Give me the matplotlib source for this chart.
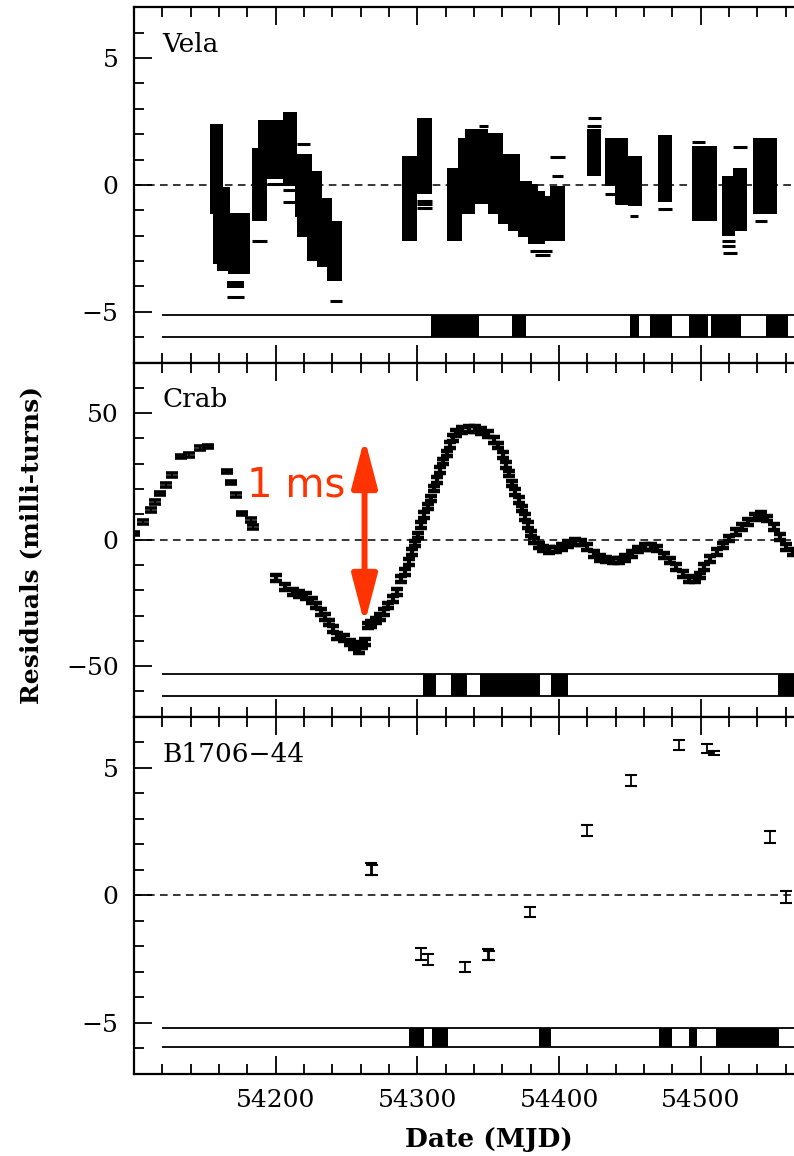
import matplotlib
matplotlib.use("Agg")
import matplotlib.pyplot as plt
from matplotlib.ticker import MultipleLocator, FixedLocator

# ---- Vela: blocks of overlapping error bars (start MJD, end MJD, low, high)
vela_t0 = [54153.6, 54155.5, 54158.8, 54166.5, 54165.8, 54183.0, 54187.7, 54204.9,
           54213.6, 54214.7, 54221.8, 54228.9, 54236.4, 54288.8, 54299.4, 54320.6,
           54328.8, 54333.5, 54350.0, 54357.1, 54364.1, 54371.2, 54378.2, 54385.3,
           54393.5, 54419.4, 54432.3, 54439.4, 54448.8, 54469.5, 54493.5, 54515.1,
           54522.9, 54537.0]
vela_t1 = [54163.0, 54167.7, 54170.1, 54181.8, 54177.6, 54193.6, 54204.9, 54214.7,
           54225.3, 54232.4, 54232.4, 54239.4, 54246.5, 54299.4, 54310.0, 54331.2,
           54340.6, 54350.0, 54360.6, 54372.3, 54380.6, 54385.3, 54390.0, 54393.5,
           54404.1, 54429.5, 54448.8, 54448.8, 54458.2, 54479.4, 54511.1, 54524.1,
           54532.3, 54553.5]
vela_lo = [-1.15, -3.12, -3.38, -3.51, -4.06, -1.41, 0.22, 0.09, -1.28, -2.07, -2.98,
           -3.25, -3.77, -2.20, -0.34, -2.20, -1.15, -0.76, -1.15, -1.54, -1.81, -2.07,
           -2.33, -2.20, -2.20, 0.35, -0.04, -0.76, -0.82, -0.69, -1.41, -2.00, -1.81,
           -1.15]
vela_hi = [2.41, -0.10, -1.50, -1.09, -3.77, 1.47, 2.54, 2.88, 1.20, 0.55, -0.50,
           -0.50, -1.41, 1.14, 2.64, 0.68, 1.86, 2.19, 2.05, 1.20, 0.16, 0.03, -0.24,
           -0.43, -0.04, 2.19, 1.86, -0.04, 1.14, 1.96, 1.53, 0.35, 0.68, 1.86]

# isolated error-bar caps (start MJD, end MJD, residual)
vela_cap_t0 = [54165.8, 54183.0, 54238.3, 54193.6, 54204.9, 54204.9, 54214.7, 54299.4,
               54299.4, 54299.4, 54343.3, 54393.5, 54394.7, 54379.4, 54382.9, 54420.6,
               54419.4, 54432.3, 54439.4, 54450.0, 54469.5, 54493.5, 54515.1, 54515.1,
               54515.8, 54522.9, 54538.2]
vela_cap_t1 = [54177.6, 54193.6, 54246.5, 54214.7, 54214.7, 54214.7, 54224.2, 54310.0,
               54310.0, 54310.0, 54350.0, 54404.1, 54403.0, 54394.7, 54393.5, 54429.5,
               54429.5, 54446.4, 54448.8, 54455.9, 54479.4, 54502.9, 54524.1, 54524.1,
               54525.2, 54532.3, 54546.4]
vela_cap_y = [-4.42, -2.20, -4.58, 0.03, -0.21, -0.69, 1.62, -0.63, -0.76, -0.92, 2.32,
              1.10, 0.35, -2.59, -2.75, 2.64, 2.32, -0.34, -0.73, -1.22, -0.96, 1.69,
              -2.20, -2.40, -2.70, 1.49, -1.44]

vela_obs_t0 = [54309.4, 54367.0, 54449.8, 54464.2, 54491.7, 54507.2, 54546.1]
vela_obs_t1 = [54343.7, 54376.6, 54456.7, 54479.7, 54505.1, 54528.1, 54561.3]

# ---- Crab
crab_sparse_mjd = [54100.2, 54106.2, 54112.1, 54115.1, 54118.1, 54122.6, 54127.1, 54133.0,
                   54139.0, 54146.5, 54152.5, 54165.9, 54168.3, 54171.9, 54176.4, 54182.4,
                   54183.9]
crab_sparse_res = [2.4, 7.0, 11.6, 14.9, 18.3, 21.6, 25.5, 32.8, 33.5, 36.1, 36.8, 26.9,
                   22.6, 17.6, 10.3, 7.7, 5.0]
crab_dense_mjd = [54200.3, 54206.3, 54212.3, 54216.7, 54221.2, 54225.7, 54228.7, 54231.7,
                  54234.7, 54237.6, 54240.6, 54243.6, 54248.1, 54252.6, 54255.6, 54258.6,
                  54261.0, 54263.1, 54265.1, 54267.5, 54270.5, 54273.5, 54276.5, 54279.5,
                  54282.5, 54285.5, 54288.5, 54291.4, 54293.8, 54295.9, 54298.0, 54300.4,
                  54302.8, 54304.9, 54307.3, 54309.4, 54311.8, 54313.9, 54316.2, 54318.3,
                  54320.7, 54322.8, 54325.2, 54327.3, 54331.8, 54336.3, 54340.8, 54345.2,
                  54349.7, 54354.2, 54357.2, 54360.2, 54362.6, 54364.7, 54367.1, 54369.2,
                  54371.5, 54373.6, 54376.0, 54378.1, 54380.5, 54382.6, 54385.6, 54388.6,
                  54393.1, 54397.5, 54402.0, 54406.5, 54411.0, 54415.5, 54420.0, 54424.4,
                  54428.9, 54433.4, 54437.9, 54442.4, 54446.8, 54451.3, 54455.8, 54460.3,
                  54464.8, 54469.3, 54473.7, 54478.2, 54482.7, 54487.2, 54491.7, 54496.2,
                  54499.2, 54502.1, 54506.6, 54511.1, 54515.6, 54520.1, 54524.6, 54529.0,
                  54533.5, 54538.0, 54542.5, 54547.0, 54551.5, 54555.9, 54560.4, 54564.9]
crab_dense_res = [-15.1, -18.8, -20.8, -21.4, -22.4, -24.1, -26.1, -28.7,
                  -30.7, -32.7, -35.3, -38.0, -39.0, -40.6, -42.2, -43.9,
                  -41.7, -40.4, -34.0, -33.4, -32.0, -30.7, -28.7, -26.1,
                  -23.4, -20.8, -15.5, -12.8, -8.9, -4.9, -1.6, 1.7,
                  5.7, 9.7, 13.0, 16.3, 20.2, 23.5, 27.5, 30.8,
                  34.1, 37.4, 40.1, 42.1, 43.4, 43.8, 43.7, 43.0,
                  41.7, 39.4, 37.2, 33.5, 29.5, 26.2, 22.2, 18.9,
                  15.6, 12.3, 9.0, 5.7, 2.4, -0.3, -2.3, -3.6,
                  -4.2, -3.9, -2.9, -1.7, -0.9, -1.2, -2.9, -5.6,
                  -7.2, -7.8, -8.2, -8.2, -7.3, -5.6, -3.9, -2.9,
                  -2.9, -3.6, -6.2, -8.2, -10.9, -13.5, -15.5, -15.8,
                  -14.2, -10.9, -7.6, -4.9, -2.3, 0.4, 3.0, 5.0,
                  7.0, 9.0, 9.7, 8.3, 5.0, 1.1, -2.9, -4.9]
CRAB_SPARSE_ERR = 0.7
CRAB_DENSE_ERR = 1.1

crab_obs_t0 = [54304.0, 54323.7, 54344.0, 54394.0, 54554.4]
crab_obs_t1 = [54313.3, 54335.1, 54386.5, 54406.5, 54580.0]

# ---- PSR B1706-44
b1706_mjd = [54267.0, 54268.0, 54302.8, 54307.3, 54333.3, 54349.7, 54350.3, 54379.6,
             54420.0, 54450.4, 54484.8, 54504.2, 54509.6, 54548.5, 54560.4]
b1706_res = [1.02, 0.98, -2.30, -2.52, -2.81, -2.32, -2.36, -0.66,
             2.53, 4.50, 5.88, 5.75, 5.59, 2.30, -0.07]
b1706_err = [0.23, 0.20, 0.23, 0.22, 0.20, 0.21, 0.18, 0.20,
             0.22, 0.23, 0.20, 0.17, 0.08, 0.24, 0.23]

b1706_obs_t0 = [54293.8, 54310.0, 54386.0, 54470.5, 54492.0, 54510.7]
b1706_obs_t1 = [54304.9, 54321.9, 54394.2, 54480.0, 54497.2, 54555.5]

XMIN, XMAX = 54100, 54700
W, H = 794, 1156
PX_PER_DAY = 1.417
SERIF = "DejaVu Serif"


def axes_rect(top, bottom):
    return [134 / W, 1 - bottom / H, (XMAX - XMIN) * PX_PER_DAY / W, (bottom - top) / H]


def style_panel(ax, ylim, major, minor, name, band_lo, band_hi, obs_t0, obs_t1, xlabels):
    ax.set_xlim(XMIN, XMAX)
    ax.set_ylim(-ylim, ylim)
    ax.xaxis.set_major_locator(FixedLocator([54200, 54300, 54400, 54500]))
    ax.xaxis.set_minor_locator(MultipleLocator(20))
    ax.yaxis.set_major_locator(MultipleLocator(major))
    ax.yaxis.set_minor_locator(MultipleLocator(minor))
    ax.tick_params(which="both", direction="in", top=True, right=False, width=1.3,
                   labelsize=18, labelbottom=xlabels, pad=11)
    ax.tick_params(which="major", length=13)
    ax.tick_params(which="minor", length=7)
    for lab in ax.get_xticklabels() + ax.get_yticklabels():
        lab.set_family(SERIF)
    for sp in ax.spines.values():
        sp.set_linewidth(1.6)
    ax.axhline(0, ls=(0, (5, 3.5)), color="black", lw=1.1, zorder=1)
    ax.text(54120, ylim * 0.79, name, fontsize=19, family=SERIF, va="center", ha="left")
    # observation bar
    ax.hlines([band_lo, band_hi], 54119.6, XMAX, color="black", lw=1.3)
    ax.bar([(a + b) / 2 for a, b in zip(obs_t0, obs_t1)],
           [band_hi - band_lo] * len(obs_t0), bottom=band_lo,
           width=[b - a for a, b in zip(obs_t0, obs_t1)], color="black", lw=0)


fig = plt.figure(figsize=(W / 100, H / 100), dpi=100)
ax1 = fig.add_axes(axes_rect(7.3, 362.5))
ax2 = fig.add_axes(axes_rect(362.5, 716.7))
ax3 = fig.add_axes(axes_rect(716.7, 1074))

# Vela
ax1.bar([(a + b) / 2 for a, b in zip(vela_t0, vela_t1)],
        [h - l for l, h in zip(vela_lo, vela_hi)], bottom=vela_lo,
        width=[b - a for a, b in zip(vela_t0, vela_t1)], color="black", lw=0)
ax1.hlines(vela_cap_y, vela_cap_t0, vela_cap_t1, color="black", lw=2.2)
style_panel(ax1, 7, 5, 1, "Vela", -5.98, -5.13, vela_obs_t0, vela_obs_t1, False)

# Crab
ekw = dict(fmt="none", ecolor="black", capsize=4.5)
ax2.errorbar(crab_sparse_mjd, crab_sparse_res, yerr=CRAB_SPARSE_ERR, elinewidth=1.5,
             capthick=2.6, **ekw)
ax2.errorbar(crab_dense_mjd, crab_dense_res, yerr=CRAB_DENSE_ERR, elinewidth=3,
             capthick=3.2, **ekw)
style_panel(ax2, 70, 50, 10, "Crab", -61.8, -53.2, crab_obs_t0, crab_obs_t1, False)
ax2.annotate("", xy=(54262.7, 40.1), xytext=(54262.7, -33.3),
             arrowprops=dict(arrowstyle="<|-|>,head_length=1.45,head_width=0.38",
                             mutation_scale=20, lw=4.3, color="#FF3300",
                             shrinkA=0, shrinkB=0))
ax2.text(54214.7, 21.4, "1 ms", color="#FF3300", fontsize=29, ha="center",
         va="center", family="DejaVu Sans")

# B1706-44
ax3.errorbar(b1706_mjd, b1706_res, yerr=b1706_err, fmt="none", ecolor="black",
             capsize=4.5, elinewidth=1.3, capthick=1.5)
style_panel(ax3, 7, 5, 1, "B1706\u221244", -5.96, -5.18, b1706_obs_t0, b1706_obs_t1, True)

fig.text(31 / W, 1 - 545 / H, "Residuals (milli-turns)", rotation=90, fontsize=18,
         fontweight="bold", family=SERIF, ha="center", va="center")
fig.text(489 / W, 1 - 1140 / H, "Date (MJD)", fontsize=19, fontweight="bold",
         family=SERIF, ha="center", va="center")

fig.savefig("out.png", dpi=100)
